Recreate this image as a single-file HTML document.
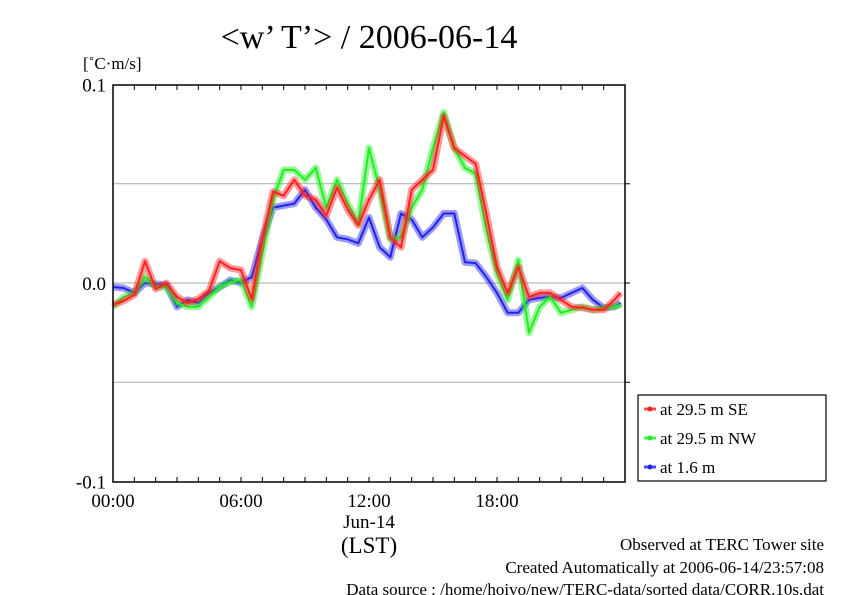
<!DOCTYPE html>
<html><head><meta charset="utf-8"><style>
body{margin:0;background:#fff;}
svg{display:block;font-family:"Liberation Serif",serif;}
</style></head><body>
<svg id="chart" width="842" height="595" viewBox="0 0 842 595">
<rect width="842" height="595" fill="#fff"/>
<text x="369" y="48" text-anchor="middle" font-size="34">&lt;w’ T’&gt; / 2006-06-14</text>
<text x="83" y="69" font-size="17">[˚C·m/s]</text>
<g id="grid"></g>
<g id="series"></g>
<rect x="113" y="85" width="512" height="397" fill="none" stroke="#000" stroke-width="1.5"/>
<g id="ticks"></g>
<g id="labels" font-size="19"></g>
<text x="369" y="528" text-anchor="middle" font-size="19">Jun-14</text>
<text x="369" y="553" text-anchor="middle" font-size="23">(LST)</text>
<g font-size="17" text-anchor="end">
<text x="824" y="550">Observed at TERC Tower site</text>
<text x="824" y="573">Created Automatically at 2006-06-14/23:57:08</text>
<text x="824" y="595">Data source : /home/hoivo/new/TERC-data/sorted  data/CORR.10s.dat</text>
</g>
<g>
<rect x="638" y="395" width="188" height="86" fill="#fff" stroke="#000" stroke-width="1.2"/>
<g id="legend"></g>
</g>
</svg>
<script>
const hours = [0,0.5,1,1.5,2,2.5,3,3.5,4,4.5,5,5.5,6,6.5,7,7.5,8,8.5,9,9.5,10,10.5,11,11.5,12,12.5,13,13.5,14,14.5,15,15.5,16,16.5,17,17.5,18,18.5,19,19.5,20,20.5,21,21.5,22,22.5,23,23.5,23.8];
const seriesNames = ["at 29.5 m SE","at 29.5 m NW","at 1.6 m"];
const redSE = [-0.011,-0.009,-0.006,0.011,-0.003,0.0,-0.007,-0.010,-0.008,-0.004,0.011,0.0075,0.0065,-0.008,0.022,0.046,0.044,0.052,0.044,0.042,0.034,0.048,0.037,0.029,0.042,0.052,0.023,0.018,0.047,0.052,0.057,0.084,0.068,0.064,0.060,0.035,0.008,-0.005,0.008,-0.007,-0.005,-0.005,-0.0085,-0.012,-0.0125,-0.0135,-0.0135,-0.0085,-0.005];
const greenNW = [-0.012,-0.007,-0.005,0.003,-0.002,-0.002,-0.010,-0.012,-0.012,-0.007,-0.002,0.0005,0.0015,-0.012,0.015,0.042,0.057,0.057,0.052,0.058,0.038,0.052,0.040,0.030,0.068,0.047,0.022,0.023,0.038,0.047,0.068,0.086,0.068,0.058,0.055,0.027,0.005,-0.0085,0.0115,-0.025,-0.012,-0.007,-0.015,-0.0135,-0.012,-0.0135,-0.0125,-0.012,-0.011];
const blueLow = [-0.002,-0.0025,-0.005,0.0,-0.0005,-0.001,-0.012,-0.0085,-0.010,-0.005,-0.002,0.0015,0.0,0.003,0.022,0.038,0.039,0.040,0.047,0.038,0.032,0.023,0.022,0.020,0.033,0.018,0.013,0.035,0.032,0.023,0.028,0.035,0.035,0.0105,0.010,0.003,-0.005,-0.015,-0.015,-0.0085,-0.0075,-0.007,-0.0075,-0.005,-0.0025,-0.0085,-0.0125,-0.012,-0.010];
const yTicks = [0.1,0.0,-0.1];
const yTickLabels = ["0.1","0.0","-0.1"];
const yGrid = [0.05,0,-0.05];
const xTicks = [0,6,12,18];
const xTickLabels = ["00:00","06:00","12:00","18:00"];
const colors = ["#ff2020","#22ee22","#2222ee"];
const NS="http://www.w3.org/2000/svg";
const X = h => 113 + h/24*512;
const Y = v => 283 - v/0.1*198.5;
function mk(tag, attrs, parent){const e=document.createElementNS(NS,tag);for(const k in attrs)e.setAttribute(k,attrs[k]);parent.appendChild(e);return e;}
const grid=document.getElementById('grid');
yGrid.forEach(v=>{const l=mk('line',{x1:113,x2:625,y1:Y(v),y2:Y(v),stroke:'#aaa','stroke-width':1},grid);

});
const ticks=document.getElementById('ticks');
for(let h=1;h<24;h++){
 const t1=mk('line',{x1:X(h),x2:X(h),y1:85,y2:90,stroke:'#000'},ticks);
 
 
 const t2=mk('line',{x1:X(h),x2:X(h),y1:482,y2:477,stroke:'#000'},ticks);
 
 
}
yGrid.forEach(v=>{const t=mk('line',{x1:625,x2:630,y1:Y(v),y2:Y(v),stroke:'#000'},ticks);

});
const labels=document.getElementById('labels');
yTicks.forEach((v,i)=>{const t=mk('text',{x:106,y:Y(v)+7,'text-anchor':'end'},labels);t.textContent=yTickLabels[i];

});
xTicks.forEach((h,i)=>{const t=mk('text',{x:X(h),y:507,'text-anchor':'middle'},labels);t.textContent=xTickLabels[i];

});
const series=document.getElementById('series');
[redSE,greenNW,blueLow].forEach((vals,i)=>{
 const d=vals.map((v,j)=>(j?'L':'M')+X(hours[j]).toFixed(1)+' '+Y(v).toFixed(1)).join(' ');
 const g=mk('g',{},series);
 
 
 mk('path',{d:d,fill:'none',stroke:colors[i],'stroke-width':7,'stroke-opacity':0.45,'stroke-linejoin':'round'},g);
 mk('path',{d:d,fill:'none',stroke:colors[i],'stroke-width':2,'stroke-linejoin':'round'},g);
});
series.appendChild(series.children[1]);series.appendChild(series.children[0]);
const lg=document.getElementById('legend');
seriesNames.forEach((n,i)=>{const y=409+i*29;
 const g=mk('g',{},lg);
 
 
 mk('line',{x1:644,x2:656,y1:y,y2:y,stroke:colors[i],'stroke-width':3,'stroke-opacity':0.8},g);
 mk('circle',{cx:650,cy:y,r:2.5,fill:colors[i]},g);
 const t=mk('text',{x:660,y:y+6,'font-size':17},g);t.textContent=n;});
</script>
</body></html>
